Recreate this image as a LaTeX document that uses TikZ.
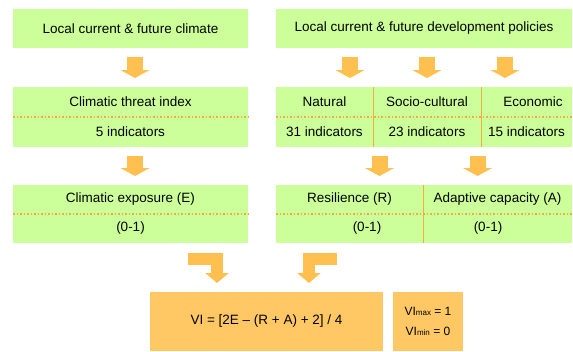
\documentclass[tikz,border=0pt]{standalone}
\usepackage{fontspec}
\setmainfont{Liberation Sans}
\usetikzlibrary{arrows.meta}
\definecolor{leafgreen}{RGB}{204,255,153}
\definecolor{boxorange}{RGB}{255,200,100}
\definecolor{arroworange}{RGB}{255,192,80}
\definecolor{sepline}{RGB}{242,172,64}
\begin{document}
\begin{tikzpicture}[x=1pt,y=-1pt,inner sep=0pt,outer sep=0pt,
font=\fontsize{13.5}{16}\selectfont,
cell/.style={fill=leafgreen,rectangle,minimum height=30pt},
result/.style={fill=boxorange,rectangle,minimum height=59pt},
fat/.style={draw=arroworange,line width=16pt,-{Triangle[width=29pt,length=8pt]},shorten <=9pt,shorten >=9pt},
fatbend/.style={draw=arroworange,line width=12pt,line join=miter,-{Triangle[width=23pt,length=10pt]},shorten >=9pt},
dotsep/.style={draw=sepline,line width=1.5pt,dotted},
cellsep/.style={draw=sepline,line width=0.9pt}]
\useasboundingbox (0,0) rectangle (573,351);
% climate side
\draw (130.5,28.5) node[cell,minimum width=235pt,minimum height=39pt] (clim) {Local current \& future climate};
\draw (130.5,102) node[cell,minimum width=235pt] (threat) {Climatic threat index};
\draw (130.5,132) node[cell,minimum width=235pt] (threatn) {5 indicators};
\draw (130.5,199.5) node[cell,minimum width=235pt,minimum height=29pt] (expo) {Climatic exposure (E)};
\draw (130.5,228.5) node[cell,minimum width=235pt,minimum height=29pt] (expon) {(0-1)};
% policy side
\draw (424,28.5) node[cell,minimum width=296pt,minimum height=39pt] (pol) {Local current \& future development policies};
\draw (324.5,102) node[cell,minimum width=97pt] (nat) {Natural};
\draw (324.5,132) node[cell,minimum width=97pt] (natn) {31 indicators};
\draw (427,102) node[cell,minimum width=108pt] (soc) {Socio-cultural};
\draw (427,132) node[cell,minimum width=108pt] (socn) {23 indicators};
\draw (526.5,102) node[cell,minimum width=91pt] (eco) {\hspace*{13pt}Economic};
\draw (526.5,132) node[cell,minimum width=91pt] (econ) {15 indicators};
\draw (349.5,199.5) node[cell,minimum width=147pt,minimum height=29pt] (res) {Resilience (R)};
\draw (349.5,228.5) node[cell,minimum width=147pt,minimum height=29pt] (resn) {\hspace*{35pt}(0-1)};
\draw (497.5,199.5) node[cell,minimum width=149pt,minimum height=29pt] (ada) {Adaptive capacity (A)};
\draw (497.5,228.5) node[cell,minimum width=149pt,minimum height=29pt] (adan) {(0-1)\hspace*{19pt}};
% index
\draw (266.5,321.5) node[result,minimum width=233pt] (vi) {VI = [2E -- (R + A) + 2] / 4};
\draw (428,321.5) node[result,minimum width=70pt,align=center,font=\fontsize{12}{20}\selectfont] (range)
  {VI{\fontsize{8}{9}\selectfont max} = 1\\VI{\fontsize{8}{9}\selectfont min} = 0};
% separators
\draw[dotsep] (threat.south west) -- (threat.south east);
\draw[dotsep] (expo.south west) -- (expo.south east);
\draw[dotsep] (nat.south west) -- (eco.south east);
\draw[dotsep] (res.south west) -- (ada.south east);
\draw[cellsep] (nat.north east) -- (natn.south east);
\draw[cellsep] (soc.north east) -- (socn.south east);
\draw[cellsep] (res.north east) -- (resn.south east);
% arrows
\draw[fat] ([xshift=4.5pt]clim.south) -- ([xshift=4.5pt]threat.north);
\draw[fat] ([xshift=4.5pt]threatn.south) -- ([xshift=4.5pt]expo.north);
\draw[fat] ([xshift=25.5pt]nat.north |- pol.south) -- ([xshift=25.5pt]nat.north);
\draw[fat] (soc.north |- pol.south) -- (soc.north);
\draw[fat] ([xshift=-21.5pt]eco.north |- pol.south) -- ([xshift=-21.5pt]eco.north);
\draw[fat] ([xshift=30pt]resn.north |- socn.south) -- ([xshift=30pt]res.north);
\draw[fat] ([xshift=-20pt]ada.north |- socn.south) -- ([xshift=-20pt]ada.north);
\draw[fatbend] ([xshift=-60pt,yshift=-16pt]expon.south east) -| ([xshift=-49.5pt]vi.north);
\draw[fatbend] ([xshift=-12.5pt,yshift=-16pt]resn.south) -| ([xshift=42.5pt]vi.north);
\end{tikzpicture}
\end{document}
